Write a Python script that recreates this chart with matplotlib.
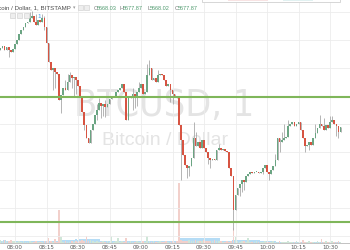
import matplotlib
matplotlib.use('Agg')
import matplotlib.pyplot as plt
from matplotlib.ticker import MultipleLocator
from matplotlib.patches import Rectangle
import numpy as np
import pandas as pd

# 1-minute BTC/USD candles, first candle at 07:53 (minute -7 relative to 08:00)
start_minute = -7
first_open = 5679
closes = [5680, 5681, 5679, 5680.5, 5679, 5678, 5679.5,
          5682, 5684, 5687, 5689, 5690.5, 5692.5, 5693, 5695, 5696, 5693, 5691.5, 5694, 5693, 5695, 5690.5,
          5682.5, 5673, 5669, 5670, 5668, 5667, 5654, 5656.5, 5660, 5659, 5663, 5666.5, 5665, 5665.5, 5664,
          5661, 5655.5, 5648, 5641.5, 5635, 5632.5, 5639, 5642, 5646.5, 5649, 5652.5, 5651, 5652, 5650.5, 5652,
          5654.5, 5655.5, 5656, 5658, 5659, 5660, 5662, 5658, 5644, 5655, 5656, 5657, 5655.5, 5658, 5660,
          5662, 5657, 5658, 5666.5, 5670, 5664, 5665, 5663, 5666.5, 5667, 5666.5, 5664, 5661, 5662, 5659,
          5657, 5656, 5655, 5641.5, 5634, 5626.5, 5621.5, 5620, 5621, 5625, 5635, 5631, 5633, 5630, 5634,
          5630, 5628, 5625, 5624, 5624.5, 5624, 5629, 5630, 5629, 5629.5, 5628.5, 5628, 5620, 5616, 5599,
          5606.5, 5610, 5612, 5614, 5613, 5616, 5617, 5618, 5617.5, 5618, 5618, 5617.5, 5618, 5620, 5621.5,
          5618, 5617, 5619, 5621, 5624, 5635, 5633, 5634, 5635, 5635.5, 5641, 5642, 5643, 5641, 5642,
          5643, 5639, 5635, 5631, 5631.5, 5633, 5631.5, 5635, 5637.5, 5640, 5642, 5641, 5639, 5641.5, 5640,
          5643, 5644, 5642, 5641, 5638, 5640.5]

# wick extremes that stick out of the bodies (minute -> price)
wick_highs = {7: 5698, 8: 5698.5, 10: 5697, 13: 5697, 14: 5696, 24: 5664, 25: 5667, 26: 5668,
              39: 5652, 40: 5655, 43: 5654, 56: 5660, 59: 5663, 63: 5672, 64: 5674, 68: 5669,
              85: 5643, 86: 5638, 97: 5632, 124: 5627, 127: 5638, 128: 5642, 130: 5644,
              143: 5642, 145: 5646.5, 147: 5645, 150: 5646, 151: 5646}
wick_lows = {-3: 5675.5, 14: 5689, 18: 5659, 19: 5660, 22: 5647.5, 27: 5660, 28: 5656, 29: 5657,
             33: 5639, 38: 5642, 39: 5644, 41: 5645, 42: 5646, 43: 5645.5, 54: 5649, 56: 5649,
             57: 5650, 58: 5651, 74: 5653, 75: 5652, 79: 5614, 82: 5615, 83: 5616, 92: 5622,
             93: 5620, 104: 5589, 106: 5607, 107: 5606, 108: 5608, 109: 5609, 118: 5617,
             121: 5614, 126: 5628, 138: 5628, 140: 5629, 153: 5636, 154: 5635}

volumes = [3, 2, 3, 2, 2, 3, 2,
           2, 1, 2, 1, 2, 1, 1, 2, 1, 1, 2, 1, 1, 1, 2,
           2, 5, 2, 1, 4, 1, 33, 6,
           1, 2, 1, 1, 2, 1, 2, 1, 2, 3, 2, 7,
           2, 3, 2, 1, 2, 1, 1, 2, 1, 2,
           1, 7, 1, 2, 5, 1, 2, 1, 5,
           1, 2, 1, 1, 2, 1, 1, 2, 1, 7,
           2, 1, 2, 1, 1, 2, 1, 1, 2, 1, 1, 2, 1, 2, 60,
           3, 2, 2, 2, 3, 2, 2, 3, 2, 2, 2, 3, 2, 2, 2, 2, 3, 2, 2, 2, 1, 1, 2, 1, 2,
           15, 6, 2, 1, 2, 2, 1, 5, 1, 1,
           1, 2, 1, 1, 1, 2, 1, 1, 1, 2, 1, 1, 2, 1, 1, 1, 2, 1, 1, 1, 2, 1, 1,
           3, 1, 1, 2, 1, 1, 1, 2, 1, 4,
           1, 2, 1, 1, 2, 1, 1, 2, 1]

tick_minutes = [0, 15, 30, 45, 60, 75, 90, 105, 120, 135, 150]
tick_labels = ['08:00', '08:15', '08:30', '08:45', '09:00', '09:15',
               '09:30', '09:45', '10:00', '10:15', '10:30']
level_lines = [5655.5, 5593]

up_color = '#6ba583'
down_color = '#d75442'

minutes = np.arange(start_minute, start_minute + len(closes))
closes = np.array(closes)
opens = np.concatenate([[first_open], closes[:-1]])
highs = np.maximum(opens, closes)
lows = np.minimum(opens, closes)
for m, p in wick_highs.items():
    highs[m - start_minute] = max(highs[m - start_minute], p)
for m, p in wick_lows.items():
    lows[m - start_minute] = min(lows[m - start_minute], p)
up = closes >= opens

W, H = 350, 250
fig = plt.figure(figsize=(W / 100, H / 100), dpi=100, facecolor='white')
rect = [0, 7 / H, 1, 243 / H]

# volume panel underneath
vax = fig.add_axes(rect)
vax.set_zorder(0)
vol = pd.Series(volumes, dtype=float)
vol_ma = vol.rolling(20, min_periods=1).mean()
vax.fill_between(minutes, 0, vol_ma, step='mid', color='#b5dcf5', lw=0)
vcols = np.where(up, '#cfe6d8', '#f2d0cb')
vax.bar(minutes, vol, width=0.8, color=vcols, lw=0)
vax.set_ylim(0, 243)
vax.set_xlim(-7.14, 159.5)
vax.axis('off')

ax = fig.add_axes(rect)
ax.set_zorder(1)
ax.patch.set_alpha(0)

# watermark
ax.text(0.469, 0.564, 'BTCUSD, 1', transform=ax.transAxes, ha='center', va='center',
        fontsize=27, color='#e4e4e4', family='DejaVu Sans', fontstretch='condensed', zorder=0)
ax.text(0.471, 0.42, 'Bitcoin / Dollar', transform=ax.transAxes, ha='center', va='center',
        fontsize=14, color='#e4e4e4', family=['Liberation Sans', 'DejaVu Sans'], zorder=0)

# candles
ax.vlines(minutes, lows, highs, color='#a8a8a8', lw=0.6, zorder=2)
body = np.maximum(np.abs(closes - opens), 0.4)
ax.bar(minutes, body, bottom=np.minimum(opens, closes), width=0.8,
       color=np.where(up, up_color, down_color), lw=0, zorder=3)

for lvl in level_lines:
    ax.axhline(lvl, color='#7fb65a', lw=1.5, zorder=4)

ax.set_xlim(-7.14, 159.5)
ax.set_ylim(5582.5, 5704)
ax.yaxis.set_major_locator(MultipleLocator(14))
ax.set_xticks(tick_minutes)
ax.set_xticklabels(tick_labels)
ax.grid(True, color='#ececec', lw=0.6, zorder=0)
ax.tick_params(axis='x', length=0, labelsize=4, pad=1.5, colors='#555555')
ax.tick_params(axis='y', left=False, labelleft=False)
for s in ['top', 'left', 'right']:
    ax.spines[s].set_visible(False)
ax.spines['bottom'].set_color('#b8b8b8')
ax.spines['bottom'].set_linewidth(0.6)


def px(x, y):
    return x / W, 1 - y / H


# header
hdr = ['Liberation Sans', 'DejaVu Sans']
fig.text(*px(71, 8), 'Bitcoin / Dollar, 1, BITSTAMP', ha='right', va='center', fontsize=4.4,
         color='#4a4a4a', family=hdr)
fig.text(*px(74, 8), '▾', ha='center', va='center', fontsize=3.5, color='#999999')
for bx in [78, 84]:
    fig.patches.append(Rectangle(px(bx, 10), 4.5 / W, 4.5 / H, transform=fig.transFigure,
                                 fc='#eeeeee', ec='#cccccc', lw=0.4))
for bx in [10, 17, 24]:
    fig.patches.append(Rectangle(px(bx, 18), 5 / W, 4.5 / H, transform=fig.transFigure,
                                 fc='#eeeeee', ec='#cccccc', lw=0.4))
fig.text(*px(39, 16), '1', ha='center', va='center', fontsize=4.5, color='#3d9be9', family=hdr)
for xx, k, v in [(94, 'O', '5668.03'), (120, 'H', '5677.87'), (147, 'L', '5668.02'), (175, 'C', '5677.87')]:
    fig.text(*px(xx, 8), k, ha='left', va='center', fontsize=4, color='#777777', family=hdr)
    fig.text(*px(xx + 3.2, 8), v, ha='left', va='center', fontsize=4, color='#4f9a6e', family=hdr)

# widget box at the top right
fig.patches.append(Rectangle(px(202, 1.5), 138 / W, 6 / H, transform=fig.transFigure,
                             fc='white', ec='#d0d0d0', lw=0.6))
fig.patches.append(Rectangle(px(228, 1.2), 40 / W, 5 / H, transform=fig.transFigure,
                             fc='#f8e3e3', lw=0))
fig.patches.append(Rectangle(px(283, 1.2), 30 / W, 5 / H, transform=fig.transFigure,
                             fc='#e1f1f1', lw=0))

fig.savefig('out.png', dpi=100)
